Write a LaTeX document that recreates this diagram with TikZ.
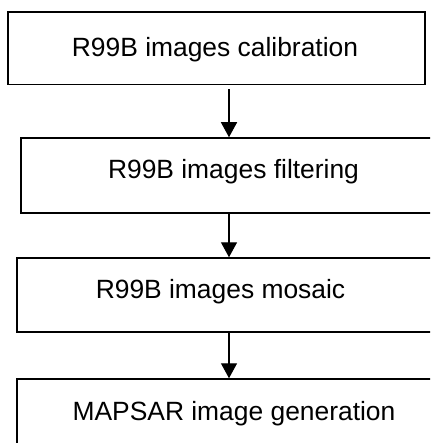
\documentclass[tikz,border=0pt]{standalone}
\usepackage{fontspec}
\setmainfont{Liberation Sans}
\usetikzlibrary{arrows.meta, positioning, calc}
\tikzset{
  box/.style={draw, line width=1.5pt, inner sep=0pt},
  lbl/.style={anchor=base, inner sep=0pt, font=\fontsize{26.4}{30}\selectfont},
  arr/.style={-{Triangle[length=15pt, width=16pt]}, line width=1.4pt},
}
\begin{document}
\begin{tikzpicture}
  \useasboundingbox (0,0) rectangle (430pt,-443pt);
  \clip (0,0) rectangle (430pt,-443pt);
  \node[box, minimum width=417pt, minimum height=72.5pt] (cal) at (216.5pt,-48.25pt) {};
  \node[box, minimum width=414pt, minimum height=75pt] (filt) at (228pt,-175.5pt) {};
  \node[box, minimum width=418pt, minimum height=74pt] (mos) at (226pt,-295pt) {};
  \node[box, minimum width=418pt, minimum height=81pt] (gen) at (226pt,-419.5pt) {};
  \node[lbl] (calt) at (215pt,-57pt) {R99B images calibration};
  \node[lbl] (filtt) at (233.5pt,-179pt) {R99B images filtering};
  \node[lbl] (most) at (220.5pt,-298pt) {R99B images mosaic};
  \node[lbl] (gent) at (234pt,-420pt) {MAPSAR image generation};
  \coordinate (ax) at (229pt,0);
  \draw[arr, shorten <=4pt] (cal.south -| ax) -- (filt.north -| ax);
  \draw[arr] (filt.south -| ax) -- (mos.north -| ax);
  \draw[arr] (mos.south -| ax) -- (gen.north -| ax);
\end{tikzpicture}
\end{document}
